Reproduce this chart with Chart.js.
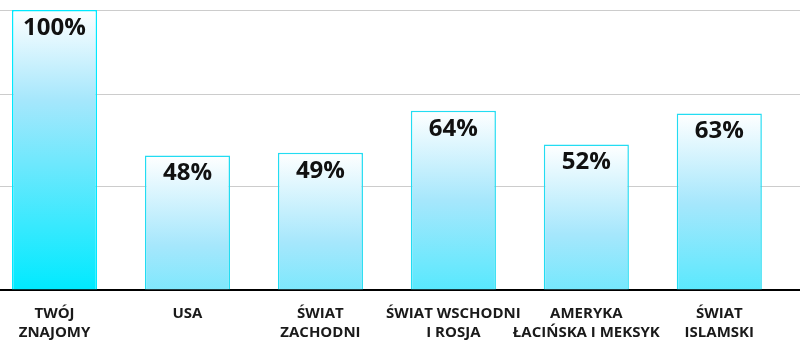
<!DOCTYPE html>
<html>
<head>
<meta charset="utf-8">
<script src="https://cdn.jsdelivr.net/npm/chart.js@4"></script>
<style>
  html, body { margin: 0; padding: 0; background: #fff; }
  #wrap { position: relative; width: 800px; height: 350px; }
</style>
</head>
<body>
<div id="wrap"><canvas id="c" width="800" height="350"></canvas></div>
<script>
const categories = [
  ['TWÓJ', 'ZNAJOMY'],
  ['USA'],
  ['ŚWIAT', 'ZACHODNI'],
  ['ŚWIAT WSCHODNI', 'I ROSJA'],
  ['AMERYKA', 'ŁACIŃSKA I MEKSYK'],
  ['ŚWIAT', 'ISLAMSKI']
];
const values = [100, 48, 49, 64, 52, 63];
const gridTicks = [0, 37, 70, 100];

const FONT = "'Open Sans', 'Noto Sans', sans-serif";

function barGradient(context) {
  const chart = context.chart;
  const area = chart.chartArea;
  const ys = chart.scales && chart.scales.y;
  if (!area || !ys || context.type !== 'data') return '#80e8fc';
  const v = context.raw && context.raw.y !== undefined ? context.raw.y : context.parsed.y;
  const top = ys.getPixelForValue(v);
  const full = area.bottom - area.top;
  const g = chart.ctx.createLinearGradient(0, top, 0, top + full);
  g.addColorStop(0, '#ffffff');
  g.addColorStop(0.32, '#a6e7fc');
  g.addColorStop(1, '#00eaff');
  return g;
}

const valueLabels = {
  id: 'valueLabels',
  afterDatasetsDraw(chart) {
    const ctx = chart.ctx;
    const meta = chart.getDatasetMeta(0);
    ctx.save();
    ctx.font = "bold 24px " + FONT;
    ctx.fillStyle = '#111111';
    ctx.textAlign = 'center';
    ctx.textBaseline = 'middle';
    meta.data.forEach((el, i) => {
      ctx.fillText(values[i] + '%', el.x, el.y + 18);
    });
    ctx.restore();
  }
};

new Chart(document.getElementById('c'), {
  type: 'bar',
  data: {
    datasets: [{
      data: values.map((v, i) => ({ x: i, y: v })),
      backgroundColor: barGradient,
      borderColor: values.map((v, i) => i === 0 ? '#00e9ff' : '#22dcf2'),
      borderWidth: 1.5,
      borderSkipped: 'bottom',
      barPercentage: 0.8,
      categoryPercentage: 0.8
    }]
  },
  options: {
    responsive: false,
    animation: false,
    layout: { padding: { top: 10, left: 0, right: 0, bottom: 0 } },
    plugins: { legend: { display: false }, tooltip: { enabled: false } },
    scales: {
      x: {
        type: 'linear',
        offset: false,
        bounds: 'data',
        min: -0.41,
        max: 5.607,
        grid: { display: false, drawTicks: false, offset: false },
        border: { display: true, color: '#000000', width: 2 },
        afterBuildTicks(scale) {
          scale.ticks = categories.map((c, i) => ({ value: i }));
        },
        afterFit(scale) {
          scale.height = 60;
        },
        ticks: {
          autoSkip: false,
          maxRotation: 0,
          padding: 14,
          color: '#1a1a1a',
          font: { family: FONT, size: 15, weight: 'bold', lineHeight: 1.27 },
          callback: (v) => categories[v]
        }
      },
      y: {
        min: 0,
        max: 100,
        afterBuildTicks(scale) {
          scale.ticks = gridTicks.map(v => ({ value: v }));
        },
        grid: { color: '#cccccc', lineWidth: 1, drawTicks: false },
        border: { display: false },
        ticks: { display: false }
      }
    }
  },
  plugins: [valueLabels]
});
</script>
</body>
</html>
